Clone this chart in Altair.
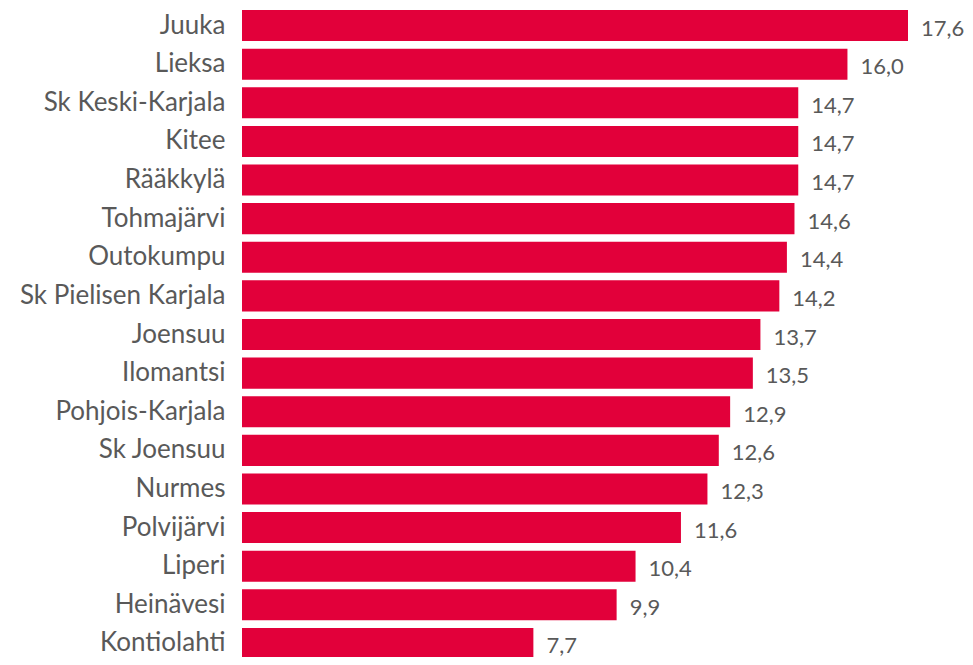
import altair as alt
import pandas as pd

areas = ["Juuka", "Lieksa", "Sk Keski-Karjala", "Kitee", "Rääkkylä", "Tohmajärvi",
         "Outokumpu", "Sk Pielisen Karjala", "Joensuu", "Ilomantsi", "Pohjois-Karjala",
         "Sk Joensuu", "Nurmes", "Polvijärvi", "Liperi", "Heinävesi", "Kontiolahti"]
values = [17.6, 16.0, 14.7, 14.7, 14.7, 14.6, 14.4, 14.2, 13.7, 13.5, 12.9,
          12.6, 12.3, 11.6, 10.4, 9.9, 7.7]

df = pd.DataFrame({
    "area": areas,
    "value": values,
    "label": [f"{v:.1f}".replace(".", ",") for v in values],
})

FONT = "Lato"
TEXT = "#595959"
RED = "#E2003A"

y = alt.Y("area:N", sort=areas,
          scale=alt.Scale(paddingInner=0.197, paddingOuter=0.052),
          axis=alt.Axis(title=None, ticks=False, domain=False, labelPadding=17,
                        labelFontSize=26, labelColor=TEXT, labelFont=FONT, labelLimit=400))
x = alt.X("value:Q", scale=alt.Scale(domain=[0, 17.6], nice=False, zero=True), axis=None)

bars = alt.Chart(df).mark_bar(color=RED).encode(x=x, y=y)
text = alt.Chart(df).mark_text(align="left", baseline="middle", dx=13, dy=3,
                               fontSize=22, font=FONT, color=TEXT).encode(
    x=x, y=y, text="label:N")

chart = (bars + text).properties(
    width=666, height=653,
    autosize=alt.AutoSizeParams(type="none"),
    padding={"left": 234, "right": 57, "top": 0, "bottom": -4},
).configure_view(stroke=None)

chart.save("out.html", embed_options={"renderer": "svg", "actions": False})
